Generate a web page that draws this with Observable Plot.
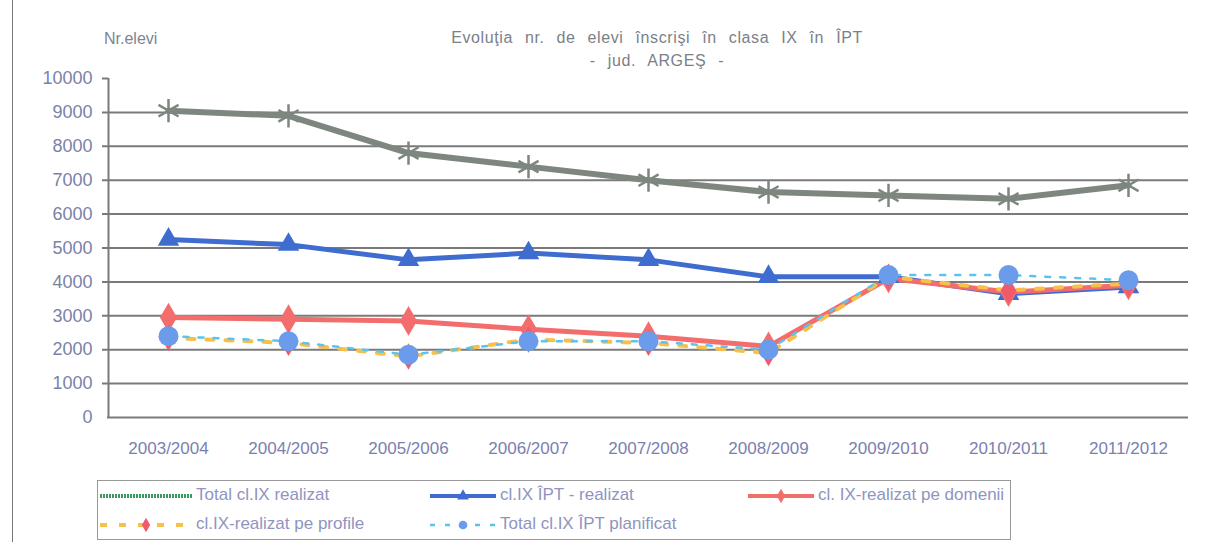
<!DOCTYPE html>
<html><head><meta charset="utf-8">
<script src="https://cdn.jsdelivr.net/npm/d3@7"></script>
<script src="https://cdn.jsdelivr.net/npm/@observablehq/plot@0.6"></script>
<style>
body{margin:0;background:#fff;width:1210px;height:542px;position:relative;overflow:hidden;font-family:"Liberation Sans",Arial,sans-serif;}
#frame{position:absolute;left:12px;top:0;width:1px;height:542px;background:#777;}
#ylab{position:absolute;left:104px;top:30px;font-size:16px;color:#7d8590;}
#title{position:absolute;left:357px;width:600px;top:26px;text-align:center;font-size:16px;color:#7a7f88;word-spacing:7px;letter-spacing:0.6px;line-height:23px;}
#chart{position:absolute;left:0;top:60px;}
#legend{position:absolute;left:97px;top:480px;width:914px;height:60px;border:1px solid #999;box-sizing:border-box;}
.item{position:absolute;font-size:17px;color:#8f94c0;font-family:"Liberation Sans",Arial,sans-serif;white-space:nowrap;}
.item svg{vertical-align:middle;margin-right:4px;}
</style></head><body>
<div id="frame"></div>
<div id="chart"></div>
<div id="ylab">Nr.elevi</div>
<div id="title">Evoluţia nr. de elevi înscrişi în clasa IX în ÎPT<br>- jud. ARGEŞ -</div>
<div id="legend"></div>
<script>
const years = ["2003/2004","2004/2005","2005/2006","2006/2007","2007/2008","2008/2009","2009/2010","2010/2011","2011/2012"];
const totalRealizat = [9050, 8900, 7800, 7400, 7000, 6650, 6550, 6450, 6850];
const iptRealizat   = [5250, 5100, 4650, 4850, 4650, 4150, 4150, 3650, 3850];
const peDomenii     = [2950, 2900, 2850, 2600, 2400, 2100, 4100, 3700, 3900];
const peProfile     = [2350, 2200, 1800, 2300, 2200, 1900, 4150, 3750, 3950];
const planificat    = [2400, 2250, 1850, 2250, 2250, 2000, 4200, 4200, 4050];
const yTicks = [0,1000,2000,3000,4000,5000,6000,7000,8000,9000,10000];
const gridTicks = [1000,2000,3000,4000,5000,6000,7000,8000,9000];

const series = [
  {name:"Total cl.IX realizat", values:totalRealizat, color:"#7d877f", width:6, dash:null, symbol:"asterisk", fill:"#7d877f", r:11},
  {name:"cl.IX ÎPT - realizat", values:iptRealizat, color:"#3f6ccf", width:5, dash:null, symbol:"triangle", fill:"#3f6ccf", r:8},
  {name:"cl. IX-realizat pe domenii", values:peDomenii, color:"#f36d6d", width:5, dash:null, symbol:"diamond", fill:"#f36d6d", r:9},
  {name:"cl.IX-realizat pe profile", values:peProfile, color:"#f6c04a", width:4, dash:"7,12", symbol:"diamond", fill:"#f05a6a", r:8},
  {name:"Total cl.IX ÎPT planificat", values:planificat, color:"#5cc3ee", width:2.5, dash:"5,10", symbol:"circle", fill:"#6b9cec", r:10}
];

const marks = [
  Plot.gridY(gridTicks, {stroke:"#7a7a7a", strokeOpacity:1, strokeWidth:2, insetLeft:-5}),
];
marks.push(Plot.ruleY([0], {stroke:"#7a7a7a", strokeWidth:2}));
marks.push(Plot.axisY(yTicks, {tickSize:0, tickPadding:15, fontSize:18, fill:"#7a82a8", label:null, tickFormat:d3.format("d")}));
marks.push(Plot.ruleY([10000], {x1:()=>years[0], x2:()=>years[0], insetLeft:-6, dx:-60, stroke:"#7a7a7a", strokeWidth:2}));
marks.push(Plot.ruleX([years[0]], {y1:0, y2:10000, stroke:"#7a7a7a", strokeWidth:2, dx:-60}));
marks.push(Plot.axisX(years, {tickSize:0, tickPadding:24, fontSize:17, fill:"#7b7fb0", label:null}));
for (const s of series) {
  marks.push(Plot.line(years, {x:d=>d, y:(d,i)=>s.values[i], stroke:s.color, strokeWidth:s.width, strokeDasharray:s.dash, curve:"linear"}));
}
for (const s of series) {
  if (s.symbol === "asterisk") {
    marks.push(Plot.dot(years, {x:d=>d, y:(d,i)=>s.values[i], symbol:"asterisk", r:s.r, stroke:s.fill, strokeWidth:2.5}));
  } else {
    marks.push(Plot.dot(years, {x:d=>d, y:(d,i)=>s.values[i], symbol:s.symbol, r:s.r, fill:s.fill, stroke:"none"}));
  }
}

const chart = Plot.plot({
  width:1210, height:415,
  marginLeft:107, marginRight:22, marginTop:18, marginBottom:58,
  x:{type:"point", domain:years, padding:0.5, axis:null},
  y:{domain:[0,10000], axis:null},
  style:{background:"transparent", fontFamily:"Liberation Sans, Arial, sans-serif"},
  marks
});
document.getElementById("chart").appendChild(chart);

// Legend
const legend = document.getElementById("legend");
const pos = [[2,4],[332,4],[650,4],[2,33],[332,33]];
series.forEach((s,k)=>{
  const div = document.createElement("div");
  div.className = "item";
  div.style.left = pos[k][0]+"px"; div.style.top = pos[k][1]+"px";
  const w = (k===0||k===3)?92:66;
  const svg = d3.create("svg").attr("width",w).attr("height",20);
  if (k===0) {
    svg.append("line").attr("x1",0).attr("x2",w).attr("y1",10).attr("y2",10).attr("stroke","#3a9a60").attr("stroke-width",4).attr("stroke-dasharray","2,1");
  } else {
    svg.append("line").attr("x1",0).attr("x2",w).attr("y1",10).attr("y2",10).attr("stroke",s.color).attr("stroke-width",Math.min(s.width,4)).attr("stroke-dasharray",s.dash);
    const sym = s.symbol==="triangle"?d3.symbolTriangle:s.symbol==="diamond"?d3.symbolDiamond:d3.symbolCircle;
    svg.append("path").attr("d",d3.symbol(sym, 60)()).attr("transform",`translate(${w/2},10)`).attr("fill",s.fill);
  }
  div.appendChild(svg.node());
  div.appendChild(document.createTextNode(s.name));
  legend.appendChild(div);
});
</script>
</body></html>
